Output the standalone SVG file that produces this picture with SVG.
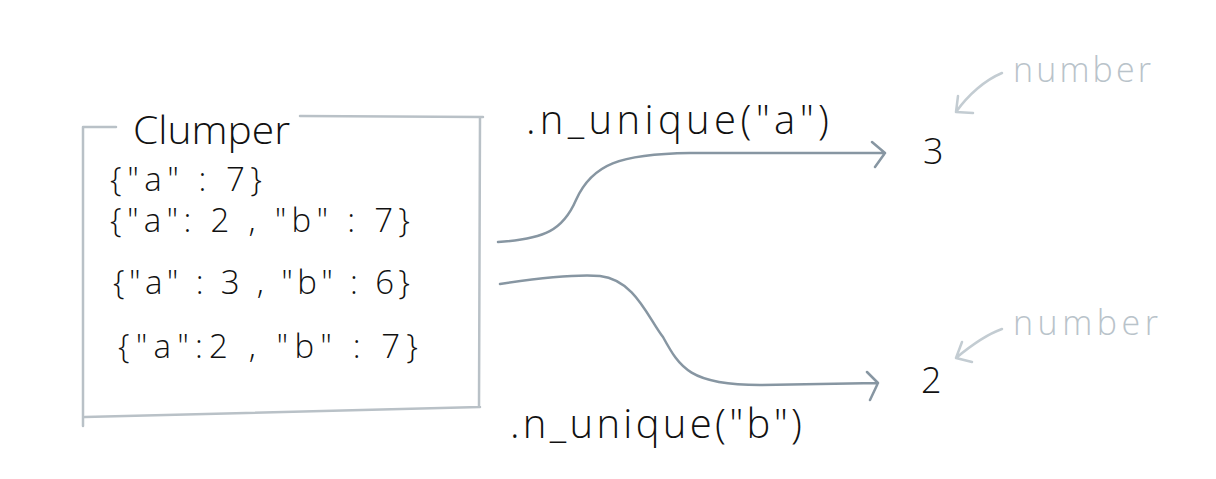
<svg xmlns="http://www.w3.org/2000/svg" width="1216" height="479" viewBox="0 0 1216 479">
<style>
.t{font-family:"Open Sans","Liberation Sans",sans-serif;font-weight:300;fill:#111}
.g{font-family:"Open Sans","Liberation Sans",sans-serif;font-weight:300;fill:#b9c3ca}
.box{fill:none;stroke:#b9c1c7;stroke-width:2.5;stroke-linecap:round}
.con{fill:none;stroke:#8796a2;stroke-width:2.5;stroke-linecap:round;stroke-linejoin:round}
.note{fill:none;stroke:#c3ccd2;stroke-width:2.5;stroke-linecap:round;stroke-linejoin:round}
</style>
<rect width="1216" height="479" fill="#fff"/>
<g id="clumper">
<path class="box" d="M83,127 L83,426 M83,127 L116,127 M300,116 L483,117 M480,117 L479,407 M85,417 L480,407"/>
<text class="t" x="133" y="144" font-size="38" textLength="157" lengthAdjust="spacingAndGlyphs">Clumper</text>
<text class="t" x="110" y="191" font-size="33" textLength="152" lengthAdjust="spacing">{"a" : 7}</text>
<text class="t" x="110" y="232" font-size="33" textLength="300" lengthAdjust="spacing">{"a": 2 , "b" : 7}</text>
<text class="t" x="113" y="294" font-size="33" textLength="297" lengthAdjust="spacing">{"a" : 3 , "b" : 6}</text>
<text class="t" x="118" y="358" font-size="33" textLength="300" lengthAdjust="spacing">{"a":2 , "b" : 7}</text>
</g>
<g id="connectors">
<path class="con" d="M498,242 C545,239 563,230 576,200 C592,164 620,154 690,153 L885,153 M872,142 L885,153 L875,167"/>
<path class="con" d="M500,284 C540,278 575,274 600,276 C635,280 648,318 663,337 C680,368 690,385 760,385 L878,383 M867,372 L878,383 L870,400"/>
<text class="t" x="526" y="134" font-size="40" textLength="303" lengthAdjust="spacing">.n_unique("a")</text>
<text class="t" x="510" y="438" font-size="40" textLength="292" lengthAdjust="spacing">.n_unique("b")</text>
</g>
<g id="result-a">
<text class="t" x="923" y="164" font-size="36">3</text>
<text class="g" x="1013" y="82" font-size="34" textLength="138" lengthAdjust="spacing">number</text>
<path class="note" d="M1002,73 C985,80 968,95 956,112 M956,112 L973,113 M956,112 L958,96"/>
</g>
<g id="result-b">
<text class="t" x="921" y="393" font-size="36">2</text>
<text class="g" x="1013" y="335" font-size="34" textLength="145" lengthAdjust="spacing">number</text>
<path class="note" d="M1002,329 C985,335 968,348 956,358 M956,358 L972,362 M956,358 L962,342"/>
</g>
</svg>
